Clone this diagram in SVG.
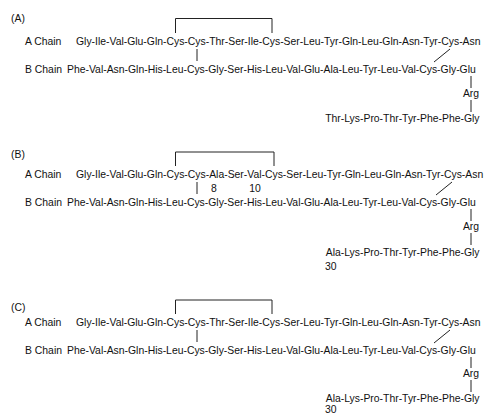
<svg xmlns="http://www.w3.org/2000/svg" width="485" height="414" viewBox="0 0 485 414">
<style>
text{font-family:"Liberation Sans",Arial,Helvetica,sans-serif;font-size:10.4px;fill:#111}
.c line,.c path{stroke:#222;stroke-width:1;fill:none}
</style>
<rect width="485" height="414" fill="#fff"/>
<!-- Panel A -->
<g id="panelA">
<text id="labelA" x="11" y="22">(A)</text>
<g id="A-achain"><text x="25" y="45">A Chain</text><text x="76" y="45">Gly-Ile-Val-Glu-Gln-Cys-Cys-Thr-Ser-Ile-Cys-Ser-Leu-Tyr-Gln-Leu-Gln-Asn-Tyr-Cys-Asn</text></g>
<g id="A-bchain"><text x="25" y="73">B Chain</text><text x="67" y="73">Phe-Val-Asn-Gln-His-Leu-Cys-Gly-Ser-His-Leu-Val-Glu-Ala-Leu-Tyr-Leu-Val-Cys-Gly-Glu</text></g>
<g id="A-arg"><text x="471" y="97" text-anchor="middle">Arg</text></g>
<g id="A-tail"><text x="479.5" y="122" text-anchor="end">Thr-Lys-Pro-Thr-Tyr-Phe-Phe-Gly</text></g>
<g class="c" id="A-connectors">
<path d="M175.5,33 V18.5 H272 V33"/>
<line x1="197" y1="49" x2="197" y2="61"/>
<line x1="450" y1="49" x2="434" y2="62"/>
<line x1="471" y1="76" x2="471" y2="88"/>
<line x1="471" y1="100" x2="471" y2="112"/>
</g>
</g>
<!-- Panel B -->
<g id="panelB">
<text id="labelB" x="11" y="158">(B)</text>
<g id="B-achain"><text x="25" y="178">A Chain</text><text x="76" y="178">Gly-Ile-Val-Glu-Gln-Cys-Cys-Ala-Ser-Val-Cys-Ser-Leu-Tyr-Gln-Leu-Gln-Asn-Tyr-Cys-Asn</text></g>
<text x="214" y="191.5" text-anchor="middle">8</text>
<text x="255" y="191.5" text-anchor="middle">10</text>
<g id="B-bchain"><text x="25" y="206">B Chain</text><text x="67" y="206">Phe-Val-Asn-Gln-His-Leu-Cys-Gly-Ser-His-Leu-Val-Glu-Ala-Leu-Tyr-Leu-Val-Cys-Gly-Glu</text></g>
<g id="B-arg"><text x="471" y="230" text-anchor="middle">Arg</text></g>
<g id="B-tail"><text x="479.5" y="256" text-anchor="end">Ala-Lys-Pro-Thr-Tyr-Phe-Phe-Gly</text><text x="325" y="270">30</text></g>
<g class="c" id="B-connectors">
<path d="M175.5,166 V152 H274 V166"/>
<line x1="197" y1="182" x2="197" y2="194"/>
<line x1="452" y1="182" x2="436" y2="195"/>
<line x1="471" y1="209" x2="471" y2="221"/>
<line x1="471" y1="233" x2="471" y2="245"/>
</g>
</g>
<!-- Panel C -->
<g id="panelC">
<text id="labelC" x="11" y="311">(C)</text>
<g id="C-achain"><text x="25" y="326">A Chain</text><text x="76" y="326">Gly-Ile-Val-Glu-Gln-Cys-Cys-Thr-Ser-Ile-Cys-Ser-Leu-Tyr-Gln-Leu-Gln-Asn-Tyr-Cys-Asn</text></g>
<g id="C-bchain"><text x="25" y="354">B Chain</text><text x="67" y="354">Phe-Val-Asn-Gln-His-Leu-Cys-Gly-Ser-His-Leu-Val-Glu-Ala-Leu-Tyr-Leu-Val-Cys-Gly-Glu</text></g>
<g id="C-arg"><text x="471" y="377" text-anchor="middle">Arg</text></g>
<g id="C-tail"><text x="479.5" y="402" text-anchor="end">Ala-Lys-Pro-Thr-Tyr-Phe-Phe-Gly</text><text x="325" y="412.5">30</text></g>
<g class="c" id="C-connectors">
<path d="M175.5,314 V300 H272 V314"/>
<line x1="197" y1="330" x2="197" y2="342"/>
<line x1="450" y1="330" x2="434" y2="343"/>
<line x1="471" y1="357" x2="471" y2="368"/>
<line x1="471" y1="380" x2="471" y2="392"/>
</g>
</g>
</svg>
